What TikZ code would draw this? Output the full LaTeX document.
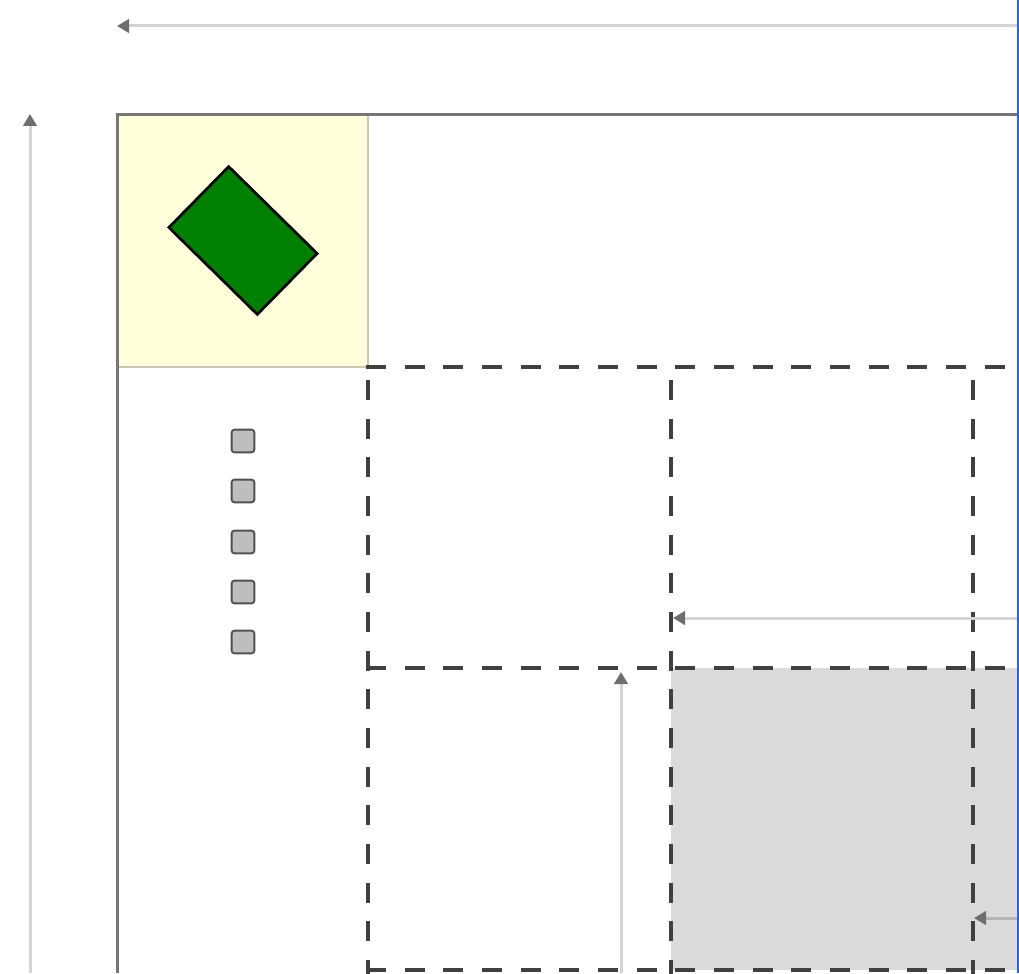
\documentclass[tikz,border=0pt]{standalone}
\usetikzlibrary{arrows.meta}
\definecolor{lightline}{HTML}{D4D4D4}
\definecolor{tipgray}{HTML}{6E6E6E}
\definecolor{framegray}{HTML}{767676}
\definecolor{celldash}{HTML}{404040}
\definecolor{hdryellow}{HTML}{FFFFDC}
\definecolor{hdrborder}{HTML}{C8C8B4}
\definecolor{shadegray}{HTML}{DADADA}
\definecolor{darkgreen}{HTML}{008000}
\definecolor{edgeblue}{HTML}{2F64E0}
\definecolor{markerfill}{HTML}{BEBEBE}
\definecolor{markeredge}{HTML}{505050}
\begin{document}
\begin{tikzpicture}[x=0.75pt,y=-0.75pt,
  guide/.style={draw=lightline, line width=2.25pt, -{Triangle[length=9pt,width=10pt,color=tipgray]}},
  griddash/.style={draw=celldash, line width=3.2pt, dash pattern=on 15pt off 14pt},
  marker/.style={draw=markeredge, fill=markerfill, line width=1.4pt, rounded corners=2pt, minimum size=17pt, inner sep=0pt},
  flagshape/.style={draw=black, fill=darkgreen, line width=2pt, minimum width=93pt, minimum height=64pt, inner sep=0pt, rotate=-44.5}
]
\useasboundingbox (0,0) rectangle (1019,973);
\clip (0,0) rectangle (1019,973);
\fill[white] (0,0) rectangle (1019,973);
% fills
\fill[hdryellow] (117,115) rectangle (368,367);
\fill[shadegray] (671,668) rectangle (1019,970);
% header borders
\draw[hdrborder, line width=2pt] (117,367) -- (368,367) -- (368,115);
% outer frame
\draw[framegray, line width=2.25pt] (117,973) -- (117,115) -- (1019,115);
% dashed grid lines
\foreach \yy in {367, 668, 970} {
  \draw[griddash] (366,\yy) -- (1030,\yy);
}
\foreach \xx in {368, 671, 973} {
  \draw[griddash] (\xx,380) -- (\xx,990);
}
% header flag
\node[flagshape] (flag) at (243,240.5) {};
% row markers
\foreach \i/\yy in {1/441, 2/491, 3/542, 4/592, 5/642} {
  \node[marker] (m\i) at (243,\yy) {};
}
% guide arrows
\coordinate (topR) at (1019,26);
\coordinate (topL) at (117,26);
\coordinate (leftB) at (30,973);
\coordinate (leftT) at (30,114);
\coordinate (rowaR) at (1019,618);
\coordinate (rowaL) at (673,618);
\coordinate (colB) at (621,973);
\coordinate (colT) at (621,672);
\coordinate (rowbR) at (1019,918);
\coordinate (rowbL) at (974,918);
\draw[guide] (topR) -- (topL);
\draw[guide] (leftB) -- (leftT);
\draw[guide] (rowaR) -- (rowaL);
\draw[guide] (colB) -- (colT);
\draw[guide, draw=lightline!85!black] (rowbR) -- (rowbL);
% right edge
\draw[edgeblue, line width=2.25pt] (1018,0) -- (1018,973);
\end{tikzpicture}
\end{document}
